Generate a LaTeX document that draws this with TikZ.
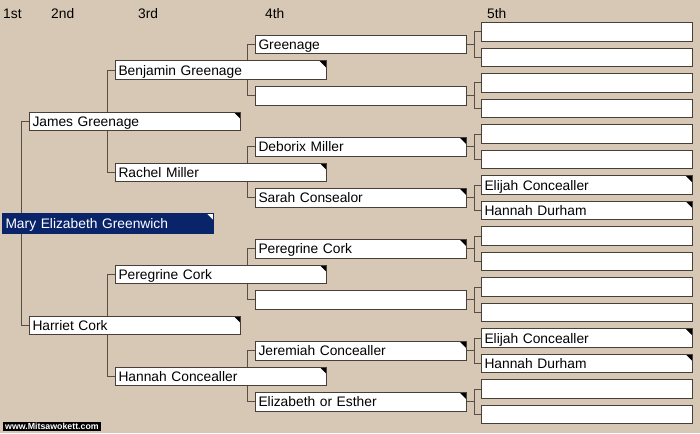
\documentclass[tikz,border=0pt]{standalone}
\usepackage{fontspec}
\setmainfont{Liberation Sans}

\definecolor{paper}{RGB}{215,200,182}
\definecolor{frame}{RGB}{72,64,56}
\definecolor{wire}{RGB}{88,78,68}
\definecolor{selected}{RGB}{10,36,106}

\pgfdeclarelayer{paper}
\pgfdeclarelayer{lines}
\pgfsetlayers{paper,lines,main}

\begin{document}
\begin{tikzpicture}[x=1pt, y=-1pt,
    grow'=right,
    edge from parent/.style={draw=none},
    level 1/.style={level distance=27pt, sibling distance=204pt},
    level 2/.style={level distance=86pt, sibling distance=102pt},
    level 3/.style={level distance=140pt, sibling distance=51pt},
    level 4/.style={level distance=226pt, sibling distance=25.5pt},
   person/.style={draw=frame, line width=1pt, fill=white, align=left,
       text width=205pt, inner xsep=3pt, inner ysep=0pt,
       minimum height=18.5pt, text height=11.5pt, text depth=1.5pt,
       font=\fontsize{13.8}{16}\selectfont},
   every child node/.style={person},
   flagged/.style={path picture={\fill[#1]
       ([xshift=-7pt]path picture bounding box.north east)
       -- (path picture bounding box.north east)
       -- ([yshift=-7pt]path picture bounding box.north east) -- cycle;}},
   flagged/.default=black,
   link/.style={draw=wire, line width=1pt},
   header/.style={font=\fontsize{13.8}{16}\selectfont, inner sep=0pt, anchor=base west}]

\begin{pgfonlayer}{paper}
\fill[paper] (0,0) rectangle (700,433);
\end{pgfonlayer}

\node[header] (gen1) at (3,19) {1st};
\node[header] (gen2) at (51,19) {2nd};
\node[header] (gen3) at (138,19) {3rd};
\node[header] (gen4) at (265,19) {4th};
\node[header] (gen5) at (487,19) {5th};

\node[person, draw=selected, fill=selected, text=white, flagged=white, minimum height=20pt] (mary)
    at (108,223.25) {Mary Elizabeth Greenwich}
    child {node[flagged] (james) {James Greenage}
        child {node[flagged] (benjamin) {Benjamin Greenage}
            child {node (greenage) {Greenage}
                child {node (greenage-f) {}}
                child {node (greenage-m) {}}
            }
            child {node (benjamin-m) {}
                child {node (benjamin-m-f) {}}
                child {node (benjamin-m-m) {}}
            }
        }
        child {node[flagged] (rachel) {Rachel Miller}
            child {node[flagged] (deborix) {Deborix Miller}
                child {node (deborix-f) {}}
                child {node (deborix-m) {}}
            }
            child {node[flagged] (sarah) {Sarah Consealor}
                child {node[flagged] (elijah-a) {Elijah Concealler}}
                child {node[flagged] (hannah-a) {Hannah Durham}}
            }
        }
    }
    child {node[flagged] (harriet) {Harriet Cork}
        child {node[flagged] (peregrine) {Peregrine Cork}
            child {node[flagged] (peregrine-sr) {Peregrine Cork}
                child {node (peregrine-sr-f) {}}
                child {node (peregrine-sr-m) {}}
            }
            child {node (peregrine-m) {}
                child {node (peregrine-m-f) {}}
                child {node (peregrine-m-m) {}}
            }
        }
        child {node[flagged] (hannah) {Hannah Concealler}
            child {node[flagged] (jeremiah) {Jeremiah Concealler}
                child {node[flagged] (elijah-b) {Elijah Concealler}}
                child {node[flagged] (hannah-b) {Hannah Durham}}
            }
            child {node[flagged] (elizabeth) {Elizabeth or Esther}
                child {node (elizabeth-f) {}}
                child {node (elizabeth-m) {}}
            }
        }
    };

\begin{pgfonlayer}{lines}
\foreach \dad/\mum in {james/harriet, benjamin/rachel, peregrine/hannah,
    greenage/benjamin-m, deborix/sarah, peregrine-sr/peregrine-m, jeremiah/elizabeth}
  \draw[link] (\dad.west) -- ++(-8pt,0) |- (\mum.west);
\foreach \kid/\dad/\mum in {greenage/greenage-f/greenage-m,
    benjamin-m/benjamin-m-f/benjamin-m-m, deborix/deborix-f/deborix-m,
    sarah/elijah-a/hannah-a, peregrine-sr/peregrine-sr-f/peregrine-sr-m,
    peregrine-m/peregrine-m-f/peregrine-m-m, jeremiah/elijah-b/hannah-b,
    elizabeth/elizabeth-f/elizabeth-m}
  \draw[link] (\dad.west) -- ++(-7pt,0) |- (\mum.west)
              (\kid.east) -- ++(7pt,0);
\end{pgfonlayer}

\node[fill=black, text=white, inner xsep=2pt, inner ysep=1pt, anchor=south west,
    font=\bfseries\fontsize{8.8}{9}\selectfont] (site) at (3,431) {www.Mitsawokett.com};

\end{tikzpicture}
\end{document}
